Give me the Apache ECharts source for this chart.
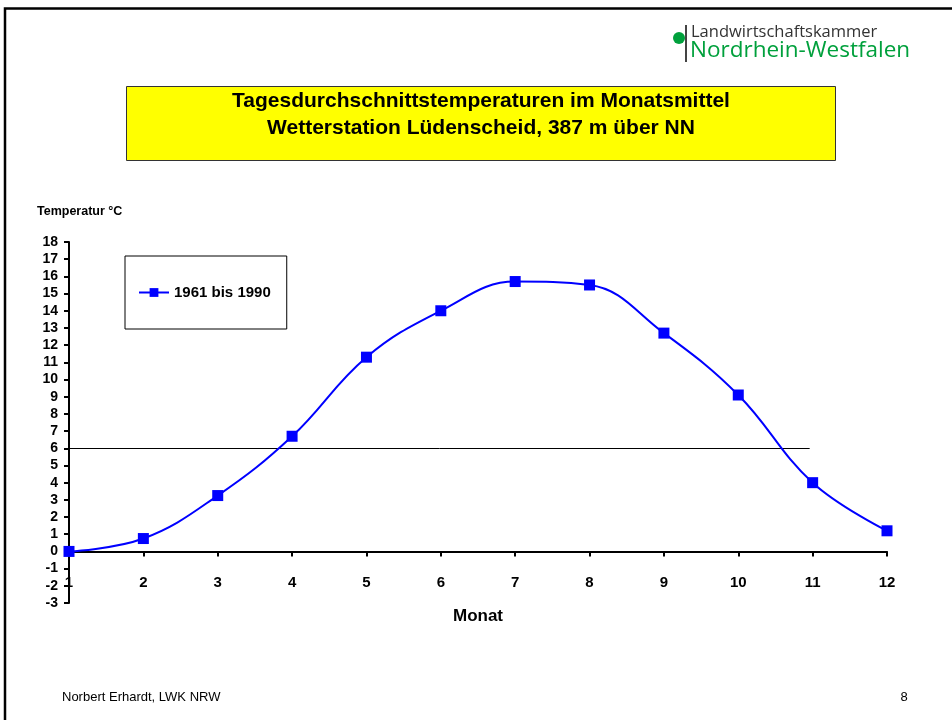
<!DOCTYPE html>
<html>
<head>
<meta charset="utf-8">
<title>Tagesdurchschnittstemperaturen Lüdenscheid</title>
<script src="https://cdn.jsdelivr.net/npm/echarts@6/dist/echarts.min.js"></script>
<style>
  html, body { margin: 0; padding: 0; background: #fff; }
  #chart { width: 952px; height: 720px; }
</style>
</head>
<body>
<div id="chart"></div>
<script>
// Monthly mean of daily average temperature, Lüdenscheid 1961–1990
const months = [1, 2, 3, 4, 5, 6, 7, 8, 9, 10, 11, 12];
const temps = [0.0, 0.75, 3.25, 6.7, 11.3, 14.0, 15.7, 15.5, 12.7, 9.1, 4.0, 1.2];
const seriesName = '1961 bis 1990';
const yTicks = { min: -3, max: 18, step: 1 };
// reference line at 6 °C, running to just before month 11
const thresholdValue = 6;
const thresholdRange = [1, 10.96];

const titleLines = [
  'Tagesdurchschnittstemperaturen im Monatsmittel',
  'Wetterstation Lüdenscheid, 387 m über NN'
];
const yAxisTitle = 'Temperatur °C';
const xAxisTitle = 'Monat';
const footerLeft = 'Norbert Erhardt, LWK NRW';
const footerRight = '8';
const logoTop = 'Landwirtschaftskammer';
const logoBottom = 'Nordrhein-Westfalen';

const FONT = '"Liberation Sans", Arial, sans-serif';
const chart = echarts.init(document.getElementById('chart'), null, { renderer: 'canvas' });

chart.setOption({
  backgroundColor: '#ffffff',
  animation: false,
  grid: { left: 69, right: 65, top: 242, bottom: 117, containLabel: false },
  legend: {
    data: [seriesName],
    left: 125,
    top: 256,
    orient: 'vertical',
    padding: [29, 16, 29, 13],
    borderColor: '#000',
    borderWidth: 1,
    itemWidth: 30,
    itemHeight: 11,
    itemGap: 0,
    textStyle: { fontFamily: FONT, fontWeight: 'bold', fontSize: 15, color: '#000' }
  },
  xAxis: {
    type: 'value',
    min: months[0],
    max: months[months.length - 1],
    interval: 1,
    name: xAxisTitle,
    nameLocation: 'middle',
    nameGap: 5,
    nameTextStyle: { fontFamily: FONT, fontWeight: 'bold', fontSize: 17, color: '#000' },
    axisLine: { onZero: true, lineStyle: { color: '#000', width: 2 } },
    axisTick: { show: true, inside: false, length: 5, lineStyle: { color: '#000', width: 2 } },
    // labels sit just under the zero line rather than under the plot bottom
    axisLabel: { fontFamily: FONT, fontWeight: 'bold', fontSize: 15, color: '#000', margin: -28 },
    splitLine: { show: false }
  },
  yAxis: {
    type: 'value',
    min: yTicks.min,
    max: yTicks.max,
    interval: yTicks.step,
    axisLine: { show: true, onZero: false, lineStyle: { color: '#000', width: 2 } },
    axisTick: { show: true, inside: false, length: 5, lineStyle: { color: '#000', width: 2 } },
    axisLabel: { fontFamily: FONT, fontWeight: 'bold', fontSize: 14, color: '#000', margin: 11 },
    splitLine: { show: false }
  },
  series: [{
    name: seriesName,
    type: 'line',
    data: months.map((m, i) => [m, temps[i]]),
    smooth: 0.4,
    symbol: 'rect',
    symbolSize: 11,
    itemStyle: { color: '#0000ff' },
    lineStyle: { color: '#0000ff', width: 2 },
    z: 5,
    markLine: {
      silent: true,
      symbol: ['none', 'none'],
      label: { show: false },
      lineStyle: { color: '#000', width: 1, type: 'solid' },
      data: [[
        { coord: [thresholdRange[0], thresholdValue] },
        { coord: [thresholdRange[1], thresholdValue] }
      ]]
    }
  }],
  graphic: [
    // slide frame (top and left edges)
    {
      type: 'polyline',
      shape: { points: [[5, 720], [5, 8.5], [952, 8.5]] },
      style: { stroke: '#000', lineWidth: 2.5, fill: null }
    },
    // title box
    {
      type: 'rect',
      shape: { x: 126.5, y: 86.5, width: 709, height: 74 },
      style: { fill: '#ffff00', stroke: '#333', lineWidth: 1 }
    },
    {
      type: 'text',
      x: 481, y: 101,
      style: {
        text: titleLines[0], align: 'center', verticalAlign: 'middle',
        font: 'bold 21px ' + FONT, fill: '#000'
      }
    },
    {
      type: 'text',
      x: 481, y: 128,
      style: {
        text: titleLines[1], align: 'center', verticalAlign: 'middle',
        font: 'bold 21px ' + FONT, fill: '#000'
      }
    },
    // y axis caption
    {
      type: 'text',
      x: 37, y: 212,
      style: {
        text: yAxisTitle, align: 'left', verticalAlign: 'middle',
        font: 'bold 12.5px ' + FONT, fill: '#000'
      }
    },
    // logo
    {
      type: 'circle',
      shape: { cx: 679, cy: 38, r: 6 },
      style: { fill: '#00a03c' }
    },
    {
      type: 'line',
      shape: { x1: 686, y1: 25, x2: 686, y2: 62 },
      style: { stroke: '#444', lineWidth: 2 }
    },
    {
      type: 'text',
      x: 691, y: 32,
      style: {
        text: logoTop, align: 'left', verticalAlign: 'middle',
        font: '16.5px "Open Sans", "Noto Sans", sans-serif', fill: '#333'
      }
    },
    {
      type: 'text',
      x: 690, y: 51,
      style: {
        text: logoBottom, align: 'left', verticalAlign: 'middle',
        font: '22.5px "Open Sans", "Noto Sans", sans-serif', fill: '#00a03c'
      }
    },
    // footer
    {
      type: 'text',
      x: 62, y: 697,
      style: {
        text: footerLeft, align: 'left', verticalAlign: 'middle',
        font: '13px ' + FONT, fill: '#000'
      }
    },
    {
      type: 'text',
      x: 904, y: 697,
      style: {
        text: footerRight, align: 'center', verticalAlign: 'middle',
        font: '13px ' + FONT, fill: '#000'
      }
    }
  ]
});
</script>
</body>
</html>
